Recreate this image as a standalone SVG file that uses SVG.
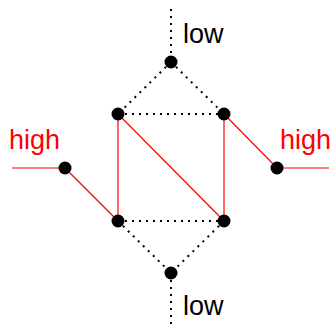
<svg xmlns="http://www.w3.org/2000/svg" width="334" height="328" viewBox="0 0 334 328">
<style>
.dot{stroke:#000;stroke-width:2;stroke-dasharray:2 5;fill:none}
.red{stroke:#f00;stroke-width:1.2;fill:none}
.n{fill:#000}
.t{font-family:"Liberation Sans",Arial,sans-serif;font-size:27px}
</style>
<rect width="334" height="328" fill="#fff"/>
<g id="connectors">
<line class="dot" x1="171" y1="9" x2="171" y2="62"/>
<line class="dot" x1="171" y1="62" x2="118" y2="114"/>
<line class="dot" x1="171" y1="62" x2="224" y2="114"/>
<line class="dot" x1="118" y1="114" x2="224" y2="114"/>
<line class="dot" x1="118" y1="221" x2="224" y2="221"/>
<line class="dot" x1="118" y1="221" x2="171" y2="273"/>
<line class="dot" x1="224" y1="221" x2="171" y2="273"/>
<line class="dot" x1="171" y1="273" x2="171" y2="327"/>
<line class="red" x1="118" y1="114" x2="118" y2="221"/>
<line class="red" x1="224" y1="114" x2="224" y2="221"/>
<line class="red" x1="118" y1="114" x2="224" y2="221"/>
<line class="red" x1="224" y1="114" x2="277" y2="168"/>
<line class="red" x1="277" y1="168" x2="329" y2="168"/>
<line class="red" x1="12" y1="168" x2="65" y2="168"/>
<line class="red" x1="65" y1="168" x2="118" y2="221"/>
</g>
<g id="n-top"><circle class="n" cx="171" cy="62" r="6.5"/></g>
<g id="n-ul"><circle class="n" cx="118" cy="114" r="6.5"/></g>
<g id="n-ur"><circle class="n" cx="224" cy="114" r="6.5"/></g>
<g id="n-left"><circle class="n" cx="65" cy="168" r="6.5"/></g>
<g id="n-right"><circle class="n" cx="277" cy="168" r="6.5"/></g>
<g id="n-ll"><circle class="n" cx="118" cy="221" r="6.5"/></g>
<g id="n-lr"><circle class="n" cx="224" cy="221" r="6.5"/></g>
<g id="n-bottom"><circle class="n" cx="171" cy="273" r="6.5"/></g>
<g id="labels">
<text class="t" x="183" y="43" fill="#000">low</text>
<text class="t" x="9" y="149" fill="#f00">high</text>
<text class="t" x="280" y="149" fill="#f00">high</text>
<text class="t" x="183" y="315" fill="#000">low</text>
</g>
</svg>
